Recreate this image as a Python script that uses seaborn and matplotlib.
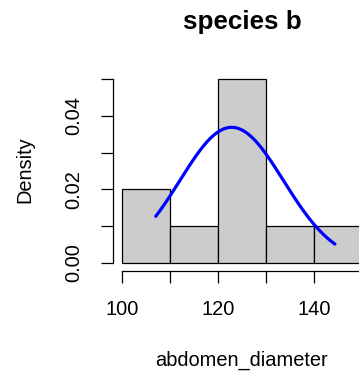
import numpy as np
import pandas as pd
import matplotlib
matplotlib.use("Agg")
import matplotlib.pyplot as plt
import seaborn as sns

# data (10 observations of species b)
abdomen_diameter = [107, 109, 116, 122, 123, 124, 125, 126, 132, 144.4]
breaks = [100, 110, 120, 130, 140, 150]
x_ticks = [100, 110, 120, 130, 140, 150]
x_ticklabels = ["100", "", "120", "", "140", ""]
y_ticks = [0.00, 0.01, 0.02, 0.03, 0.04, 0.05]
y_ticklabels = ["0.00", "", "0.02", "", "0.04", ""]
title = "species b"
xlabel = "abdomen_diameter"
ylabel = "Density"

sns.set_style("white")
plt.rcParams['font.family'] = ['Liberation Sans', 'DejaVu Sans']
plt.rcParams['text.color'] = 'black'

DPI = 72
W, H = 359, 374
fig = plt.figure(figsize=(W / DPI, H / DPI), dpi=DPI)
ax = fig.add_axes([112.7 / W, 1 - 270.7 / H, 258.6 / W, (270.7 - 71.7) / H])

df = pd.DataFrame({"abdomen_diameter": abdomen_diameter})
sns.histplot(data=df, x="abdomen_diameter", bins=breaks, stat="density",
             color="#CCCCCC", edgecolor="black", linewidth=1.25, alpha=1, ax=ax)

vals = np.asarray(abdomen_diameter, dtype=float)
mu, sd = vals.mean(), vals.std(ddof=1)
xs = np.linspace(vals.min(), vals.max(), 200)
ys = np.exp(-0.5 * ((xs - mu) / sd) ** 2) / (sd * np.sqrt(2 * np.pi))
ax.plot(xs, ys, color="blue", lw=3.2, solid_capstyle="round")

ax.set_xlim(98, 152)
ax.set_ylim(-0.00218, 0.052)

for s in ["top", "right"]:
    ax.spines[s].set_visible(False)
for s in ["left", "bottom"]:
    ax.spines[s].set_linewidth(1.25)
    ax.spines[s].set_color("black")
ax.spines["left"].set_bounds(0, 0.05)
ax.spines["bottom"].set_bounds(100, 150)

ax.set_xticks(x_ticks)
ax.set_xticklabels(x_ticklabels)
ax.set_yticks(y_ticks)
ax.set_yticklabels(y_ticklabels)
ax.tick_params(axis="both", direction="out", length=12, width=1.25, color="black",
               labelsize=20, labelcolor="black", bottom=True, left=True)
ax.tick_params(axis="x", pad=17)
ax.tick_params(axis="y", pad=17, labelrotation=90)
for lab in ax.get_yticklabels():
    lab.set_va("center")

ax.set_xlabel(xlabel, fontsize=20, color="black")
ax.set_ylabel(ylabel, fontsize=20, color="black")
ax.xaxis.set_label_coords(242 / W, 1 - 360 / H, transform=fig.transFigure)
ax.yaxis.set_label_coords(25 / W, 1 - 170 / H, transform=fig.transFigure)
ax.xaxis.label.set_va("center")
ax.yaxis.label.set_va("center")
ax.yaxis.label.set_ha("center")

ax.set_title(title, fontsize=26, fontweight="bold", pad=42.7, color="black")
ax.grid(False)

fig.savefig("out.png", dpi=DPI)
